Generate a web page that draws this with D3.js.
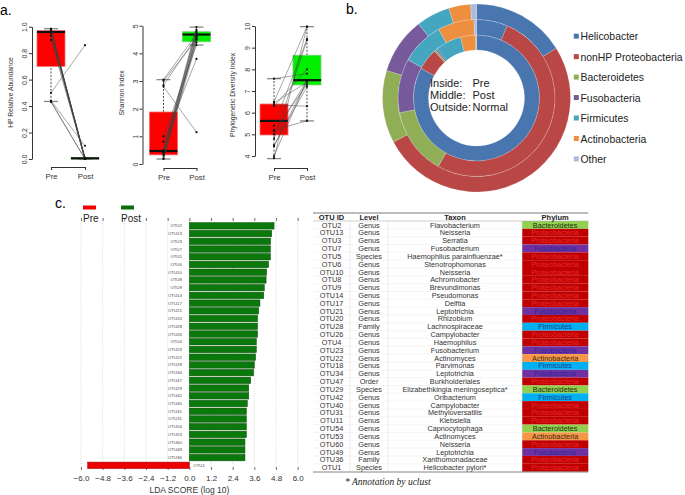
<!DOCTYPE html>
<html><head><meta charset="utf-8">
<script src="https://cdn.jsdelivr.net/npm/d3@7"></script>
<style>body{margin:0;background:#fff} svg{display:block;font-family:"Liberation Sans",Arial,sans-serif}</style>
</head><body><svg id="c" width="685" height="495"></svg>
<script>
// ---------------- Panel a data ----------------
const groups = ["Pre","Post"];
const hpPre  = [0.985,0.98,0.975,0.97,0.97,0.965,0.96,0.96,0.95,0.93,0.90,0.50,0.44,0.435,0.43];
const hpPost = [0.00,0.00,0.00,0.00,0.01,0.00,0.00,0.005,0.00,0.00,0.00,0.86,0.10,0.00,0.00];
const hpBox  = [[0.435,0.70,0.96,0.97,0.985],[0,0,0.005,0.01,0.01]];
const hpTicks = [0,0.2,0.4,0.6,0.8,1.0];

const shPre  = [3.05,3.00,2.85,2.80,1.00,0.80,0.50,0.47,0.45,0.42,0.40,0.35,0.30,0.20,0.18];
const shPost = [4.70,4.50,4.60,1.15,4.30,3.80,4.95,4.85,4.80,4.75,4.60,4.55,4.50,4.65,4.40];
const shBox  = [[0.18,0.33,0.47,1.88,3.05],[4.30,4.42,4.68,4.78,4.95]];
const shTicks = [0,1,2,3,4,5];

const pdPre  = [7.57,6.50,6.45,6.35,6.30,5.40,5.20,5.15,5.00,4.80,4.50,4.45,4.00,3.90];
const pdPost = [7.80,9.97,7.40,6.30,8.00,9.40,5.62,7.30,7.50,9.35,7.20,7.45,7.50,9.97];
const pdBox  = [[3.88,4.97,5.62,6.40,7.57],[5.62,7.28,7.50,8.65,9.97]];
const pdTicks = [4,5,6,7,8,9,10];

// ---------------- Panel b data ----------------
const phylaGroups = ["Helicobacter","nonHP Proteobacteria","Bacteroidetes","Fusobacteria","Firmicutes","Actinobacteria","Other"];
const prePct    = [82.8,5.6,0.4,0.4,6.7,3.9,0.2];
const postPct   = [6.4,51.7,13.9,11.1,8.9,7.5,0.5];
const normalPct = [16.1,51.1,12.5,9.7,5.8,3.75,1.0];
const ringLabels = [["Inside:","Pre"],["Middle:","Post"],["Outside:","Normal"]];

// ---------------- Panel c data ----------------
const otuIds = ["OTU2","OTU13","OTU3","OTU7","OTU5","OTU6","OTU10","OTU8","OTU9","OTU14","OTU17","OTU21","OTU20","OTU28","OTU26","OTU4","OTU23","OTU22","OTU18","OTU34","OTU47","OTU29","OTU42","OTU40","OTU31","OTU11","OTU54","OTU53","OTU60","OTU49","OTU36","OTU1"];
const ldaScores = [4.69,4.56,4.50,4.49,4.49,4.39,4.28,4.25,4.15,4.12,3.91,3.84,3.78,3.78,3.78,3.71,3.71,3.67,3.60,3.56,3.40,3.29,3.29,3.21,3.16,3.16,3.16,3.16,3.08,3.08,3.08,-5.63];
const ldaTicks = [-6.0,-4.8,-3.6,-2.4,-1.2,0.0,1.2,2.4,3.6,4.8,6.0];
const levels = ["Genus","Genus","Genus","Genus","Species","Genus","Genus","Genus","Genus","Genus","Genus","Genus","Genus","Family","Genus","Genus","Genus","Genus","Genus","Genus","Order","Species","Genus","Genus","Genus","Genus","Genus","Genus","Genus","Genus","Family","Species"];
const taxa = ["Flavobacterium","Neisseria","Serratia","Fusobacterium","Haemophilus parainfluenzae*","Stenotrophomonas","Neisseria","Achromobacter","Brevundimonas","Pseudomonas","Delftia","Leptotrichia","Rhizobium","Lachnospiraceae","Campylobacter","Haemophilus","Fusobacterium","Actinomyces","Parvimonas","Leptotrichia","Burkholderiales","Elizabethkingia meningoseptica*","Oribacterium","Campylobacter","Methyloversatilis","Klebsiella","Capnocytophaga","Actinomyces","Neisseria","Leptotrichia","Xanthomonadaceae","Helicobacter pylori*"];
const phyla = ["Bacteroidetes","Proteobacteria","Proteobacteria","Fusobacteria","Proteobacteria","Proteobacteria","Proteobacteria","Proteobacteria","Proteobacteria","Proteobacteria","Proteobacteria","Fusobacteria","Proteobacteria","Firmicutes","Proteobacteria","Proteobacteria","Fusobacteria","Actinobacteria","Firmicutes","Fusobacteria","Proteobacteria","Bacteroidetes","Firmicutes","Proteobacteria","Proteobacteria","Proteobacteria","Bacteroidetes","Actinobacteria","Proteobacteria","Fusobacteria","Proteobacteria","Proteobacteria"];
const tableHeaders = ["OTU ID","Level","Taxon","Phylum"];

// =================================================
const svg = d3.select("#c");

// panel letters
svg.append("text").attr("x",0).attr("y",15).text("a.").style("font-size","14px");
svg.append("text").attr("x",346).attr("y",14).text("b.").style("font-size","14px");
svg.append("text").attr("x",55).attr("y",208).text("c.").style("font-size","14px");

function boxPanel(o){
  const y = d3.scaleLinear().domain(o.domain).range([o.yBottom,o.yTop]);
  const x = d3.scalePoint().domain(groups).range([o.xPre,o.xPost]);
  const g = svg.append("g");
  const bw = 28;
  const fills = ["#ff0000","#00f000"];
  const edges = ["#f07070","#70d070"];
  o.box.forEach((s,i)=>{
    const cx = x(groups[i]);
    [[s[0],s[1]],[s[3],s[4]]].forEach(([a,b])=>{
      g.append("line").attr("x1",cx).attr("x2",cx).attr("y1",y(a)).attr("y2",y(b))
        .attr("stroke","#222").attr("stroke-width",0.8).attr("stroke-dasharray","2,1.5");
    });
    [s[0],s[4]].forEach(v=>{
      g.append("line").attr("x1",cx-bw/4).attr("x2",cx+bw/4).attr("y1",y(v)).attr("y2",y(v))
        .attr("stroke","#888").attr("stroke-width",1.3);
    });
    g.append("rect").attr("x",cx-bw/2).attr("width",bw)
      .attr("y",y(s[3])).attr("height",Math.max(0.5,y(s[1])-y(s[3])))
      .attr("fill",fills[i]).attr("stroke",edges[i]).attr("stroke-width",0.8);
    g.append("line").attr("x1",cx-bw/2).attr("x2",cx+bw/2).attr("y1",y(s[2])).attr("y2",y(s[2]))
      .attr("stroke","#111").attr("stroke-width",2.2);
  });
  o.pre.forEach((v,i)=>{
    g.append("line").attr("x1",x("Pre")).attr("y1",y(v)).attr("x2",x("Post")).attr("y2",y(o.post[i]))
      .attr("stroke","#444").attr("stroke-width",0.55).attr("opacity",0.85);
  });
  o.pre.forEach(v=>g.append("circle").attr("cx",x("Pre")).attr("cy",y(v)).attr("r",1.1).attr("fill","#111"));
  o.post.forEach(v=>g.append("circle").attr("cx",x("Post")).attr("cy",y(v)).attr("r",1.1).attr("fill","#111"));

  const ya = g.append("g").attr("transform",`translate(${o.axisX},0)`)
    .call(d3.axisLeft(y).tickValues(o.ticks).tickSize(3).tickSizeOuter(0).tickFormat(o.fmt));
  ya.select(".domain").attr("stroke","#333");
  ya.selectAll(".tick line").attr("stroke","#333");
  ya.selectAll("text").attr("transform","rotate(-90)").attr("x",0).attr("y",-5).attr("dy",0)
    .attr("text-anchor","middle").style("font-size","7px").attr("fill","#333");
  const xa = g.append("g").attr("transform",`translate(0,${o.xAxisY})`)
    .call(d3.axisBottom(x).tickSize(3).tickSizeOuter(0));
  xa.select(".domain").attr("stroke","#333");
  xa.selectAll(".tick line").attr("stroke","#333");
  xa.selectAll("text").style("font-size","7.8px").attr("fill","#333");
  g.append("text").attr("transform",`translate(${o.titleX},${o.titleY}) rotate(-90)`)
    .attr("text-anchor","middle").style("font-size","6.7px").attr("fill","#333").text(o.title);
}

boxPanel({domain:[0,1],yBottom:159,yTop:26.7,xPre:51,xPost:85,axisX:32,xAxisY:167,
  box:hpBox,pre:hpPre,post:hpPost,ticks:hpTicks,fmt:d3.format(".1f"),title:"HP Relative Abundance",titleX:13,titleY:92.5});
boxPanel({domain:[0,5],yBottom:164,yTop:25.7,xPre:163.5,xPost:196.5,axisX:142.5,xAxisY:168,
  box:shBox,pre:shPre,post:shPost,ticks:shTicks,fmt:d3.format("d"),title:"Shannon Index",titleX:124,titleY:93});
boxPanel({domain:[4,10],yBottom:156,yTop:26,xPre:274,xPost:307,axisX:255,xAxisY:168,
  box:pdBox,pre:pdPre,post:pdPost,ticks:pdTicks,fmt:d3.format("d"),title:"Phylogenetic Diversity Index",titleX:235,titleY:95});

// ---------------- Panel b ----------------
const donutColors = d3.scaleOrdinal().domain(phylaGroups)
  .range(["#4a76b0","#b84745","#8fae55","#775a9c","#45a6bf","#ee8f3f","#a9bbe0"]);
const cx = 476.5, cy = 98;
const rings = [[prePct,48,63],[postPct,63,78.5],[normalPct,78.5,94]];
const pie = d3.pie().sort(null).value(d=>d.v);
const dg = svg.append("g").attr("transform",`translate(${cx},${cy})`);
rings.forEach(([vals,r0,r1])=>{
  const arc = d3.arc().innerRadius(r0).outerRadius(r1);
  dg.selectAll(null).data(pie(vals.map((v,i)=>({k:phylaGroups[i],v}))))
    .enter().append("path").attr("d",arc).attr("fill",d=>donutColors(d.data.k))
    .attr("stroke","#fff").attr("stroke-width",0.3).attr("stroke-opacity",0.6);
});
ringLabels.forEach((r,i)=>{
  svg.append("text").attr("x",430).attr("y",87+i*12.2).style("font-size","11px").attr("fill","#222").text(r[0]);
  svg.append("text").attr("x",472.5).attr("y",87+i*12.2).style("font-size","11px").attr("fill","#222").text(r[1]);
});
const leg = svg.append("g");
phylaGroups.forEach((p,i)=>{
  const yy = 36.7 + i*20.45;
  leg.append("rect").attr("x",573.8).attr("y",yy-3).attr("width",5).attr("height",5).attr("fill",donutColors(p));
  leg.append("text").attr("x",580.5).attr("y",yy+3.6).style("font-size","10.4px").attr("fill","#222").text(p);
});

// ---------------- Panel c bars ----------------
const lx = d3.scaleLinear().domain([-6,6]).range([81,297.7]);
const ly = d3.scaleBand().domain(otuIds).range([222,469.2]).paddingInner(0.16).paddingOuter(0.08);
const cg = svg.append("g");
ldaTicks.forEach(t=>{
  cg.append("line").attr("x1",lx(t)).attr("x2",lx(t)).attr("y1",218).attr("y2",470)
    .attr("stroke","#c8c8c8").attr("stroke-width",0.7).attr("stroke-dasharray","1,1.5");
});
const topAx = cg.append("g").attr("transform","translate(0,218)")
  .call(d3.axisTop(lx).tickValues(ldaTicks).tickSize(-3).tickFormat(""));
topAx.select(".domain").remove();
topAx.selectAll(".tick line").attr("stroke","#777");
const botAx = cg.append("g").attr("transform","translate(0,470)")
  .call(d3.axisBottom(lx).tickValues(ldaTicks).tickSize(-3).tickPadding(5).tickFormat(d3.format(".1f")));
botAx.select(".domain").remove();
botAx.selectAll(".tick line").attr("stroke","#777");
botAx.selectAll("text").style("font-size","8px").attr("fill","#333");
cg.append("text").attr("x",lx(0)).attr("y",493).attr("text-anchor","middle").style("font-size","8.5px").attr("fill","#333").text("LDA SCORE (log 10)");
otuIds.forEach((id,i)=>{
  const v = ldaScores[i];
  cg.append("rect").attr("x",lx(Math.min(0,v))).attr("width",Math.abs(lx(v)-lx(0)))
    .attr("y",ly(id)).attr("height",ly.bandwidth())
    .attr("fill",v>0?"#0b780b":"#ee0000").attr("stroke",v>0?"#0a4f0a":"#9a0000").attr("stroke-width",0.5);
  cg.append("text").attr("x",v>0?lx(0)-7.5:lx(0)+4).attr("y",ly(id)+ly.bandwidth()/2+1.5)
    .attr("text-anchor",v>0?"end":"start").style("font-size","4.3px").attr("fill","#444").text(id);
});
// legend
cg.append("rect").attr("x",83).attr("y",205.5).attr("width",13).attr("height",4).attr("fill","#ee0000");
cg.append("text").attr("x",83).attr("y",222).style("font-size","10px").attr("fill","#222").text("Pre");
cg.append("rect").attr("x",121).attr("y",205.5).attr("width",13).attr("height",4).attr("fill","#0b6e0b");
cg.append("text").attr("x",121).attr("y",222).style("font-size","10px").attr("fill","#222").text("Post");

// ---------------- Table ----------------
const colEdges = [313,350,388,522,588.3];
const phylumFill = {Bacteroidetes:"#92d050",Proteobacteria:"#c00000",Fusobacteria:"#7030a0",Firmicutes:"#00b0f0",Actinobacteria:"#f79646"};
const phylumText = {Bacteroidetes:"#1e2e10",Proteobacteria:"#e42a2a",Fusobacteria:"#2a2a9a",Firmicutes:"#1f3a8a",Actinobacteria:"#3a2a10"};
const ty = d3.scaleBand().domain(otuIds).range([221,471.6]);
const tg = svg.append("g");
otuIds.forEach((id,i)=>{
  tg.append("rect").attr("x",colEdges[3]).attr("width",colEdges[4]-colEdges[3])
    .attr("y",ty(id)).attr("height",ty.bandwidth()).attr("fill",phylumFill[phyla[i]]);
  tg.append("line").attr("x1",colEdges[0]).attr("x2",colEdges[3]).attr("y1",ty(id)).attr("y2",ty(id))
    .attr("stroke","#ededed").attr("stroke-width",0.5);
});
[1,2,3].forEach(k=>tg.append("line").attr("x1",colEdges[k]).attr("x2",colEdges[k]).attr("y1",221).attr("y2",471.6)
  .attr("stroke","#e4e4e4").attr("stroke-width",0.6));
tg.append("line").attr("x1",313).attr("x2",588.3).attr("y1",213).attr("y2",213).attr("stroke","#555").attr("stroke-width",0.8);
tg.append("line").attr("x1",313).attr("x2",588.3).attr("y1",221).attr("y2",221).attr("stroke","#aaa").attr("stroke-width",0.5);
tg.append("line").attr("x1",313).attr("x2",588.3).attr("y1",472).attr("y2",472).attr("stroke","#666").attr("stroke-width",0.8);
const mids = colEdges.slice(0,4).map((e,k)=>(e+colEdges[k+1])/2);
tableHeaders.forEach((h,k)=>{
  tg.append("text").attr("x",mids[k]).attr("y",219.8).attr("text-anchor","middle")
    .style("font-size","7.5px").style("font-weight","bold").attr("fill","#222").text(h);
});
otuIds.forEach((id,i)=>{
  const yy = ty(id)+ty.bandwidth()/2+2.6;
  const row = [id,levels[i],taxa[i],phyla[i]];
  row.forEach((t,k)=>{
    tg.append("text").attr("x",mids[k]).attr("y",yy).attr("text-anchor","middle")
      .style("font-size","7.3px").attr("fill",k===3?phylumText[t]:"#333").text(t);
  });
});
svg.append("text").attr("x",345).attr("y",485).style("font-family","'Liberation Serif','Times New Roman',serif")
  .style("font-style","italic").style("font-size","9.5px").attr("fill","#222").text("* Annotation by uclust");
</script>
</body></html>
